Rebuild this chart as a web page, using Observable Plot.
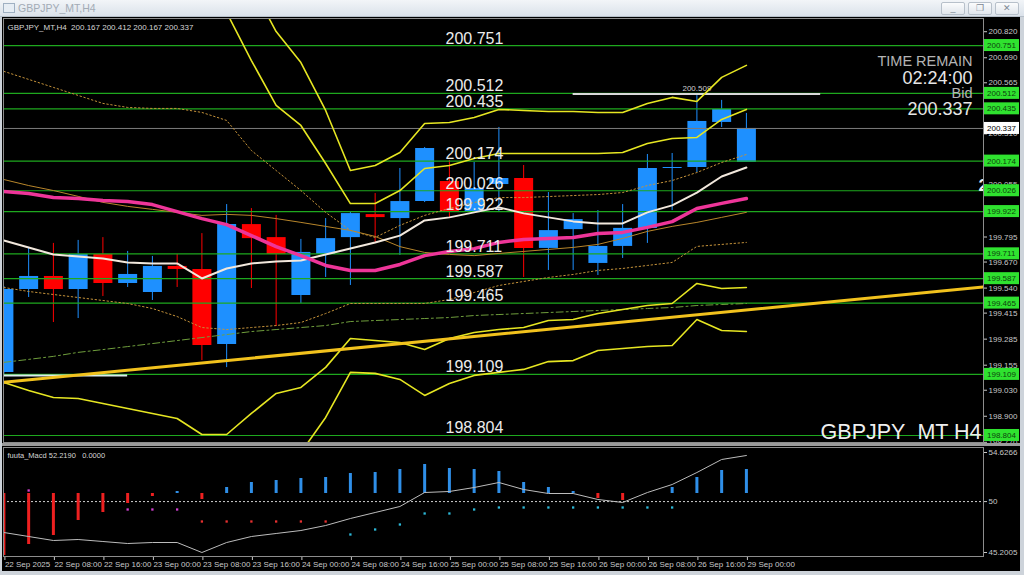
<!DOCTYPE html>
<html><head><meta charset="utf-8">
<script src="https://cdn.jsdelivr.net/npm/d3@7"></script>
<script src="https://cdn.jsdelivr.net/npm/@observablehq/plot@0.6"></script>
<style>
html,body{margin:0;padding:0;}
body{width:1024px;height:575px;overflow:hidden;position:relative;background:#cdd3da;font-family:"Liberation Sans",Arial,sans-serif;}
#titlebar{position:absolute;left:0;top:0;width:1024px;height:16px;background:linear-gradient(#f2f5f8,#dbe2ea);border-bottom:1px solid #b5bec8;}
#ttl{position:absolute;left:18px;top:2px;font-size:10.5px;color:#a2abb5;}
#icon{position:absolute;left:3px;top:3px;width:10px;height:8px;border:1px solid #9fb0c2;background:#e6edf4;}
.btn{position:absolute;top:2px;width:22px;height:11px;border:1px solid #b7c0ca;border-radius:2px;background:linear-gradient(#fbfcfd,#e1e6ec);color:#7d8894;font-size:9px;line-height:11px;text-align:center;}
#chart{position:absolute;left:2px;top:17px;width:1018px;height:554px;background:#000;}
#sep{position:absolute;left:2px;top:443px;width:1018px;height:3px;background:#9a9a9a;}
#main,#macd{position:absolute;left:0;}
#main{top:18px;}
#macd{top:446px;}
</style></head><body>
<div id="titlebar"><div id="icon"></div><div id="ttl">GBPJPY_MT,H4</div>
<div class="btn" style="left:941px">_</div><div class="btn" style="left:968px">&#x2750;</div><div class="btn" style="left:995px">&#x2715;</div></div>
<div id="chart"></div>
<div id="sep"></div>
<div id="main"></div>
<div id="macd"></div>
<script>
// ---------- DATA ----------
const xLabels = ["22 Sep 2025","22 Sep 08:00","22 Sep 16:00","23 Sep 00:00","23 Sep 08:00","23 Sep 16:00","24 Sep 00:00","24 Sep 08:00","24 Sep 16:00","25 Sep 00:00","25 Sep 08:00","25 Sep 16:00","26 Sep 00:00","26 Sep 08:00","26 Sep 16:00","29 Sep 00:00"];
const openP  = [199.118,199.533,199.598,199.533,199.708,199.563,199.518,199.648,199.633,199.258,199.857,199.792,199.503,199.708,199.792,199.907,199.887,199.972,200.072,199.922,200.057,200.087,199.738,199.832,199.663,199.748,199.838,200.137,200.142,200.367,200.167];
const highP  = [199.548,199.743,199.763,199.778,199.792,199.723,199.698,199.708,199.812,199.957,199.937,199.903,199.783,199.887,199.922,200.012,200.137,200.242,200.177,200.167,200.342,200.152,200.017,199.912,199.927,199.957,200.207,200.212,200.501,200.477,200.412];
const lowP   = [199.108,199.493,199.368,199.388,199.498,199.543,199.478,199.543,199.178,199.143,199.538,199.348,199.463,199.593,199.553,199.767,199.703,199.967,199.892,199.917,199.918,199.593,199.628,199.628,199.603,199.688,199.763,199.927,200.117,200.342,200.167];
const closeP = [199.533,199.598,199.533,199.708,199.563,199.608,199.648,199.633,199.253,199.857,199.787,199.708,199.718,199.787,199.912,199.892,199.972,200.237,199.922,200.037,200.087,199.738,199.827,199.882,199.748,199.838,200.137,200.142,200.372,200.432,200.337];

const maPink   = [200.022,200.012,199.992,199.987,199.977,199.972,199.957,199.922,199.887,199.857,199.802,199.747,199.702,199.653,199.628,199.628,199.658,199.702,199.723,199.737,199.768,199.783,199.788,199.793,199.813,199.818,199.843,199.872,199.937,199.963,199.987];
const maWhite  = [199.778,199.743,199.708,199.698,199.688,199.668,199.663,199.663,199.588,199.638,199.663,199.673,199.678,199.708,199.738,199.768,199.802,199.878,199.893,199.918,199.943,199.913,199.893,199.873,199.863,199.863,199.918,199.953,200.017,200.097,200.142];
const maOrange = [200.082,200.052,200.027,199.998,199.968,199.948,199.933,199.918,199.903,199.908,199.903,199.887,199.868,199.848,199.828,199.798,199.747,199.718,199.708,199.702,199.713,199.723,199.733,199.743,199.758,199.788,199.823,199.848,199.868,199.893,199.918];
const envUpper = [200.622,200.582,200.542,200.502,200.462,200.442,200.437,200.437,200.417,200.377,200.227,200.127,200.027,199.918,199.828,199.793,199.853,199.903,199.938,199.967,199.992,199.992,199.997,200.002,200.007,200.017,200.052,200.077,200.117,200.167,200.207];
const envLower = [199.543,199.523,199.508,199.493,199.478,199.463,199.438,199.398,199.343,199.333,199.343,199.353,199.368,199.413,199.463,199.463,199.463,199.463,199.483,199.518,199.553,199.573,199.593,199.608,199.628,199.638,199.653,199.668,199.748,199.758,199.768];
const maGreen  = [199.169,199.184,199.199,199.219,199.233,199.248,199.263,199.278,199.293,199.308,199.323,199.333,199.343,199.353,199.373,199.378,199.383,199.388,199.393,199.403,199.408,199.413,199.418,199.423,199.428,199.433,199.438,199.443,199.453,199.458,199.463];
const bandOuterUpper = [null,null,null,null,null,null,null,null,null,null,201.051,200.821,200.666,200.427,200.127,200.152,200.217,200.362,200.367,200.392,200.432,200.427,200.422,200.422,200.417,200.417,200.462,200.492,200.472,200.592,200.652];
const bandInnerUpper = [null,null,null,null,null,null,null,null,201.176,200.916,200.676,200.452,200.352,200.162,199.962,199.962,200.027,200.137,200.152,200.187,200.212,200.212,200.212,200.212,200.212,200.217,200.262,200.287,200.292,200.382,200.432];
const bandInnerLower = [199.069,199.029,198.994,198.989,198.964,198.939,198.914,198.889,198.809,198.809,198.914,199.014,199.044,199.144,199.288,199.278,199.268,199.233,199.288,199.318,199.333,199.343,199.378,199.383,199.413,199.433,199.453,199.463,199.563,199.538,199.543];
const bandOuterLower = [null,null,null,null,null,null,null,null,null,null,null,198.504,198.719,198.894,199.119,199.114,199.084,199.004,199.064,199.104,199.119,199.134,199.173,199.178,199.228,199.238,199.248,199.253,199.383,199.328,199.323];

const levels = [200.751,200.512,200.435,200.174,200.026,199.922,199.711,199.587,199.465,199.109,198.804];
const bid = 200.337;
const priceTicks = [200.820,200.690,200.565,200.435,200.310,200.180,200.055,199.925,199.795,199.670,199.540,199.415,199.285,199.155,199.030,198.900,198.770];
const trendIdx = [0, 39.58];
const trendPrice = [199.070, 199.546];
const hLine = {price: 200.509, from: 23, to: 33, labelAt: 28, label: "200.509"};
const shortLine = {price: 199.103, from: 0, to: 5};
const clippedText = {price: 200.052, text: "2"};
const headerText = "GBPJPY_MT,H4  200.167 200.412 200.167 200.337";

const macdLine = [47.086,46.709,46.332,46.426,46.237,46.049,46.143,46.143,45.201,46.143,46.709,46.992,47.274,47.746,48.405,48.971,49.537,50.856,50.951,51.327,51.799,51.139,50.762,50.762,50.197,49.914,50.856,51.610,52.741,53.967,54.344];
const histBase = 50.762;
const histEnd = [44.918,45.955,46.803,48.217,48.971,49.819,50.479,50.950,50.197,51.327,51.799,51.987,52.176,52.270,52.647,52.741,53.024,53.495,53.118,53.024,52.835,51.799,51.327,50.950,50.291,50.102,null,51.327,52.270,52.930,53.024];
const signalDots = [null,51.045,null,null,null,49.254,49.254,49.254,48.123,48.123,48.123,48.123,48.123,48.123,46.898,47.369,47.840,48.877,48.877,49.254,49.443,49.443,49.443,49.443,49.443,49.443,49.443,49.443,null,null,null];
const macdTicks = [54.6266, 50, 45.2005];
const macdHeader = "fuuta_Macd 52.2190   0.0000";

// ---------- BUILD ----------
const FONT = "Liberation Sans, Arial, sans-serif";
const xDomain = [-0.016, 39.58];
const pts = arr => arr.map((v, i) => ({i, v})).filter(d => d.v !== null);
const candles = openP.map((o, i) => ({i, open: o, high: highP[i], low: lowP[i], close: closeP[i],
  col: closeP[i] >= o ? "#1e90ff" : "#ff0000"}));
const fmt3 = d3.format(".3f");

const main = Plot.plot({
  width: 1024, height: 425,
  marginLeft: 3, marginRight: 41, marginTop: 0, marginBottom: 1,
  style: {background: "transparent", color: "#c8c8c8", fontFamily: FONT},
  x: {domain: xDomain, axis: null},
  y: {domain: [198.769, 200.886], axis: null},
  color: {type: "identity"},
  marks: [
    Plot.ruleX(candles, {x: "i", y1: "low", y2: "high", stroke: "col", strokeWidth: 1, clip: true}),
    Plot.ruleX(candles, {x: "i", y1: "open", y2: "close", stroke: "col", strokeWidth: 19, clip: true}),
    Plot.ruleY(levels, {stroke: "#1ea81e", strokeWidth: 1.2}),
    Plot.ruleY([bid], {stroke: "#7c7c7c", strokeWidth: 1}),
    Plot.ruleY([shortLine], {y: "price", x1: "from", x2: "to", stroke: "#dcecec", strokeWidth: 2, clip: true}),
    Plot.ruleY([hLine], {y: "price", x1: "from", x2: "to", stroke: "#d8d8d8", strokeWidth: 2}),
    Plot.text([hLine], {x: "labelAt", y: "price", text: "label", lineAnchor: "bottom", dy: -3, fontSize: 8, fill: "#cfcfcf"}),
    Plot.line(pts(maGreen), {x: "i", y: "v", stroke: "#6f9e3c", strokeWidth: 1, strokeDasharray: "7,3,2,3", clip: true}),
    Plot.line(pts(envUpper), {x: "i", y: "v", stroke: "#c4923a", strokeWidth: 1, strokeDasharray: "1.5,2.5", clip: true}),
    Plot.line(pts(envLower), {x: "i", y: "v", stroke: "#c4923a", strokeWidth: 1, strokeDasharray: "1.5,2.5", clip: true}),
    Plot.line(pts(maOrange), {x: "i", y: "v", stroke: "#b8862b", strokeWidth: 1, clip: true}),
    Plot.line(pts(bandOuterUpper), {x: "i", y: "v", stroke: "#e6e622", strokeWidth: 1.6, clip: true}),
    Plot.line(pts(bandInnerUpper), {x: "i", y: "v", stroke: "#e6e622", strokeWidth: 1.6, clip: true}),
    Plot.line(pts(bandInnerLower), {x: "i", y: "v", stroke: "#e6e622", strokeWidth: 1.6, clip: true}),
    Plot.line(pts(bandOuterLower), {x: "i", y: "v", stroke: "#e6e622", strokeWidth: 1.6, clip: true}),
    Plot.line(trendIdx.map((i, k) => ({i, v: trendPrice[k]})), {x: "i", y: "v", stroke: "#f2c21d", strokeWidth: 3, clip: true}),
    Plot.line(pts(maWhite), {x: "i", y: "v", stroke: "#f2e8dd", strokeWidth: 2, clip: true}),
    Plot.line(pts(maPink), {x: "i", y: "v", stroke: "#ee3599", strokeWidth: 3.5, clip: true}),
    Plot.text(levels, {y: d => d, text: d => fmt3(d), frameAnchor: "left", dx: 442, textAnchor: "start",
      lineAnchor: "bottom", dy: -2, fontSize: 16, fill: "#ececec"}),
    Plot.text([clippedText], {y: "price", text: "text", frameAnchor: "right", dx: -5, textAnchor: "start",
      lineAnchor: "middle", fontSize: 17, fontWeight: "bold", fill: "#f0f0f0", clip: true}),
    Plot.text([headerText], {frameAnchor: "top-left", dx: 4, dy: 11, lineAnchor: "bottom", textAnchor: "start", fontSize: 8, fill: "#d6d6d6"}),
    Plot.text(["TIME REMAIN"], {frameAnchor: "top-right", dx: -11, dy: 47, lineAnchor: "bottom", textAnchor: "end", fontSize: 14.5, fill: "#b4b4b4"}),
    Plot.text(["02:24:00"], {frameAnchor: "top-right", dx: -11, dy: 65, lineAnchor: "bottom", textAnchor: "end", fontSize: 18, fill: "#e6e6e6"}),
    Plot.text(["Bid"], {frameAnchor: "top-right", dx: -11, dy: 79, lineAnchor: "bottom", textAnchor: "end", fontSize: 14.5, fill: "#b4b4b4"}),
    Plot.text([fmt3(bid)], {frameAnchor: "top-right", dx: -11, dy: 96, lineAnchor: "bottom", textAnchor: "end", fontSize: 18, fill: "#e6e6e6"}),
    Plot.text(["GBPJPY_MT H4"], {frameAnchor: "bottom-right", dx: -2, dy: -4, lineAnchor: "bottom", textAnchor: "end", fontSize: 21.5, fill: "#efefef"}),
    Plot.axisY({ticks: priceTicks, anchor: "right", tickSize: 3, tickPadding: 2, fontSize: 8, tickFormat: fmt3, label: null}),
    Plot.frame({stroke: "#8c8c8c"})
  ]
});
document.getElementById("main").appendChild(main);

// price boxes on the right axis, placed with Plot's own scales
(function () {
  const ys = main.scale("y"), xr = main.scale("x").range;
  const g = d3.select(main).append("g").attr("font-size", 8).attr("font-family", FONT).attr("text-anchor", "start");
  const box = (v, fill, txt) => {
    const yy = ys.apply(v);
    g.append("rect").attr("x", xr[1] + 1).attr("y", yy - 6).attr("width", 35).attr("height", 12).attr("fill", fill);
    g.append("text").attr("x", xr[1] + 4).attr("y", yy + 3).attr("text-anchor", "start").attr("fill", txt).text(fmt3(v));
  };
  levels.forEach(v => box(v, "#2fe22f", "#0e420e"));
  box(bid, "#ffffff", "#000000");
})();

const macd = Plot.plot({
  width: 1024, height: 126,
  marginLeft: 3, marginRight: 41, marginTop: 1, marginBottom: 16,
  style: {background: "transparent", color: "#c8c8c8", fontFamily: FONT},
  x: {domain: xDomain, axis: null},
  y: {domain: [44.824, 55.098], axis: null},
  color: {type: "identity"},
  marks: [
    Plot.ruleY([50], {stroke: "#d0d0d0", strokeDasharray: "2,2"}),
    Plot.ruleX(histEnd.map((v, i) => ({i, a: histBase, v})).filter(d => d.v !== null),
      {x: "i", y1: "a", y2: "v", stroke: d => d.v >= d.a ? "#2f8fe8" : "#ee2020", strokeWidth: 3, clip: true}),
    Plot.line(pts(macdLine), {x: "i", y: "v", stroke: "#bcbcbc", strokeWidth: 1, clip: true}),
    Plot.dot(pts(signalDots), {x: "i", y: "v", symbol: "square", r: 1.3,
      fill: d => d.i < 8 ? "#d040d0" : d.i < 14 ? "#e83030" : "#2cb8d8"}),
    Plot.text([macdHeader], {frameAnchor: "top-left", dx: 4, dy: 10, lineAnchor: "bottom", textAnchor: "start", fontSize: 7.5, fill: "#d6d6d6"}),
    Plot.axisX({ticks: d3.range(0, 31, 2), tickFormat: d => xLabels[d / 2], anchor: "bottom", tickSize: 4, tickPadding: 1,
      textAnchor: "start", dx: 1, fontSize: 8, label: null}),
    Plot.axisY({ticks: macdTicks, anchor: "right", tickSize: 3, tickPadding: 2, fontSize: 8,
      tickFormat: d => d === 50 ? "50" : d.toFixed(4), label: null}),
    Plot.frame({stroke: "#8c8c8c"})
  ]
});
document.getElementById("macd").appendChild(macd);
</script>
</body></html>
